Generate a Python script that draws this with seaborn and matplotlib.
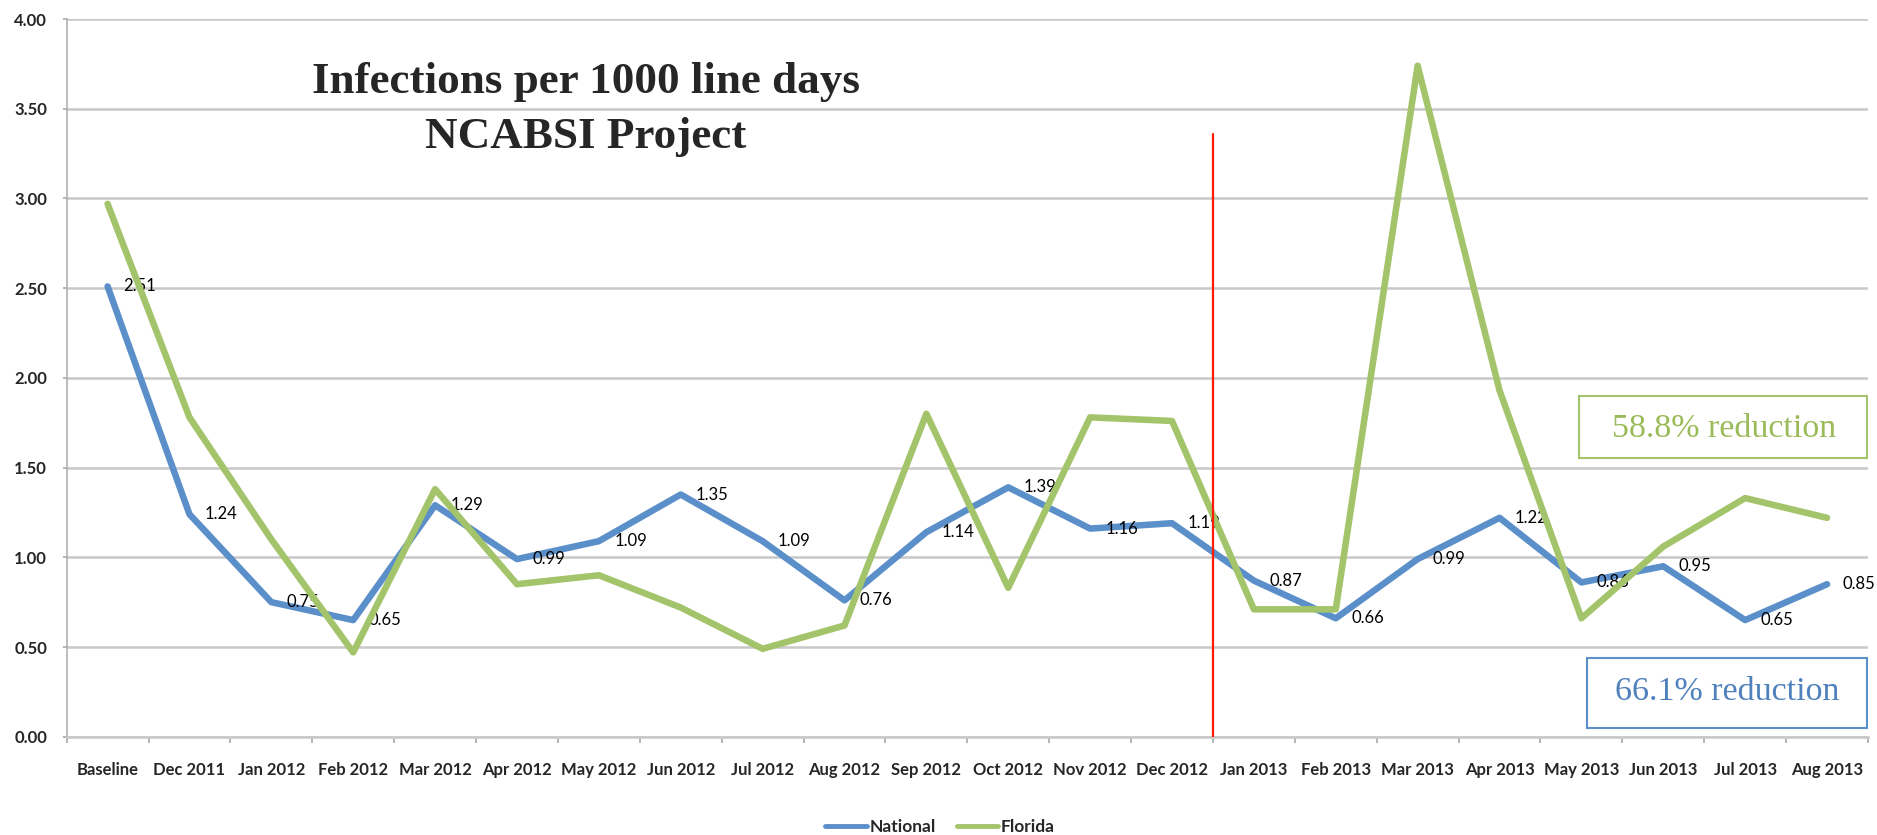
import numpy as np
import pandas as pd
import seaborn as sns
import matplotlib
matplotlib.use('Agg')
import matplotlib.pyplot as plt
from matplotlib.patches import Rectangle
from matplotlib.lines import Line2D

months = ['Baseline', 'Dec 2011', 'Jan 2012', 'Feb 2012', 'Mar 2012', 'Apr 2012',
          'May 2012', 'Jun 2012', 'Jul 2012', 'Aug 2012', 'Sep 2012', 'Oct 2012',
          'Nov 2012', 'Dec 2012', 'Jan 2013', 'Feb 2013', 'Mar 2013', 'Apr 2013',
          'May 2013', 'Jun 2013', 'Jul 2013', 'Aug 2013']
national = [2.51, 1.24, 0.75, 0.65, 1.29, 0.99, 1.09, 1.35, 1.09, 0.76, 1.14,
            1.39, 1.16, 1.19, 0.87, 0.66, 0.99, 1.22, 0.86, 0.95, 0.65, 0.85]
florida = [2.97, 1.78, 1.10, 0.47, 1.38, 0.85, 0.90, 0.72, 0.49, 0.62, 1.80,
           0.83, 1.78, 1.76, 0.71, 0.71, 3.74, 1.93, 0.66, 1.06, 1.33, 1.22]
yticks = [0, 0.5, 1.0, 1.5, 2.0, 2.5, 3.0, 3.5, 4.0]
marker_x = 13.5   # between Dec 2012 and Jan 2013
marker_top = 3.36

blue = '#5b8fca'
green = '#a3c46a'

sns.set_style('white')
plt.rcParams['font.family'] = ['Lato', 'DejaVu Sans']

n = len(months)
df = pd.DataFrame({
    'idx': list(range(n)) * 2,
    'rate': national + florida,
    'series': ['National'] * n + ['Florida'] * n,
})

fig = plt.figure(figsize=(18.77, 8.35), dpi=100)
ax = fig.add_axes([0.0355, 0.1177, 0.9597, 0.8595])

sns.lineplot(data=df, x='idx', y='rate', hue='series',
             palette={'National': blue, 'Florida': green},
             lw=4.7, sort=False, ax=ax, legend=False)
ax.lines[0].set_zorder(2)
ax.lines[1].set_zorder(4)

# data labels on national series
for i, v in enumerate(national):
    ax.annotate(f'{v:.2f}', (i, v), xytext=(11, 0), textcoords='offset points',
                ha='left', va='center', fontsize=12, color='black', zorder=3)

# red marker line
ax.plot([marker_x, marker_x], [0, marker_top], color='#ff1a0a', lw=1.6, zorder=5)

ax.set_xlim(-0.5, n - 0.5)
ax.set_ylim(0, 4.0)
ax.set_yticks(yticks)
ax.set_yticklabels([f'{v:.2f}' for v in yticks], fontsize=12, fontweight='bold')
ax.set_xticks(range(n))
ax.set_xticklabels(months, fontsize=12, fontweight='bold')
ax.set_xticks(np.arange(-0.5, n, 1), minor=True)
ax.tick_params(axis='x', which='major', length=0, pad=18.5)
ax.tick_params(axis='x', which='minor', length=4.5, width=1.2, color='#a8a8a8',
               direction='out', bottom=True)
ax.tick_params(axis='y', length=3, width=1.2, color='#a8a8a8', pad=11, left=True)
ax.set_xlabel('')
ax.set_ylabel('')

ax.yaxis.grid(True, color='#c8c8c8', lw=1.8)
ax.set_axisbelow(True)
for s in ['top', 'right']:
    ax.spines[s].set_visible(False)
ax.spines['left'].set_color('#b0b0b0')
ax.spines['left'].set_linewidth(1.2)
ax.spines['bottom'].set_color('#c8c8c8')
ax.spines['bottom'].set_linewidth(1.8)

# title
fig.text(0.312, 0.8886, 'Infections per 1000 line days', ha='center', va='baseline',
         fontsize=32.5, fontweight='bold', family='Liberation Serif')
fig.text(0.312, 0.8228, 'NCABSI Project', ha='center', va='baseline',
         fontsize=32.5, fontweight='bold', family='Liberation Serif')

# reduction boxes
ax.add_patch(Rectangle((17.97, 1.554), 21.49 - 17.97, 1.900 - 1.554, facecolor='white',
                       edgecolor=green, lw=1.5, zorder=6))
ax.text(19.74, 1.673, '58.8% reduction', ha='center', va='baseline', fontsize=24.5,
        color='#9bbb59', family='Liberation Serif', zorder=7)
ax.add_patch(Rectangle((18.07, 0.05), 21.49 - 18.07, 0.439 - 0.05, facecolor='white',
                       edgecolor=blue, lw=1.5, zorder=6))
ax.text(19.78, 0.205, '66.1% reduction', ha='center', va='baseline', fontsize=24.5,
        color='#4f81bd', family='Liberation Serif', zorder=7)

handles = [Line2D([], [], color=blue, lw=3.5), Line2D([], [], color=green, lw=3.5)]
fig.legend(handles, ['National', 'Florida'], loc='center', bbox_to_anchor=(0.5008, 0.0096),
           ncol=2, frameon=False, prop={'weight': 'bold', 'size': 12.5},
           handlelength=2.4, handletextpad=0.15, columnspacing=1.2)

fig.savefig('out.png', dpi=100)
